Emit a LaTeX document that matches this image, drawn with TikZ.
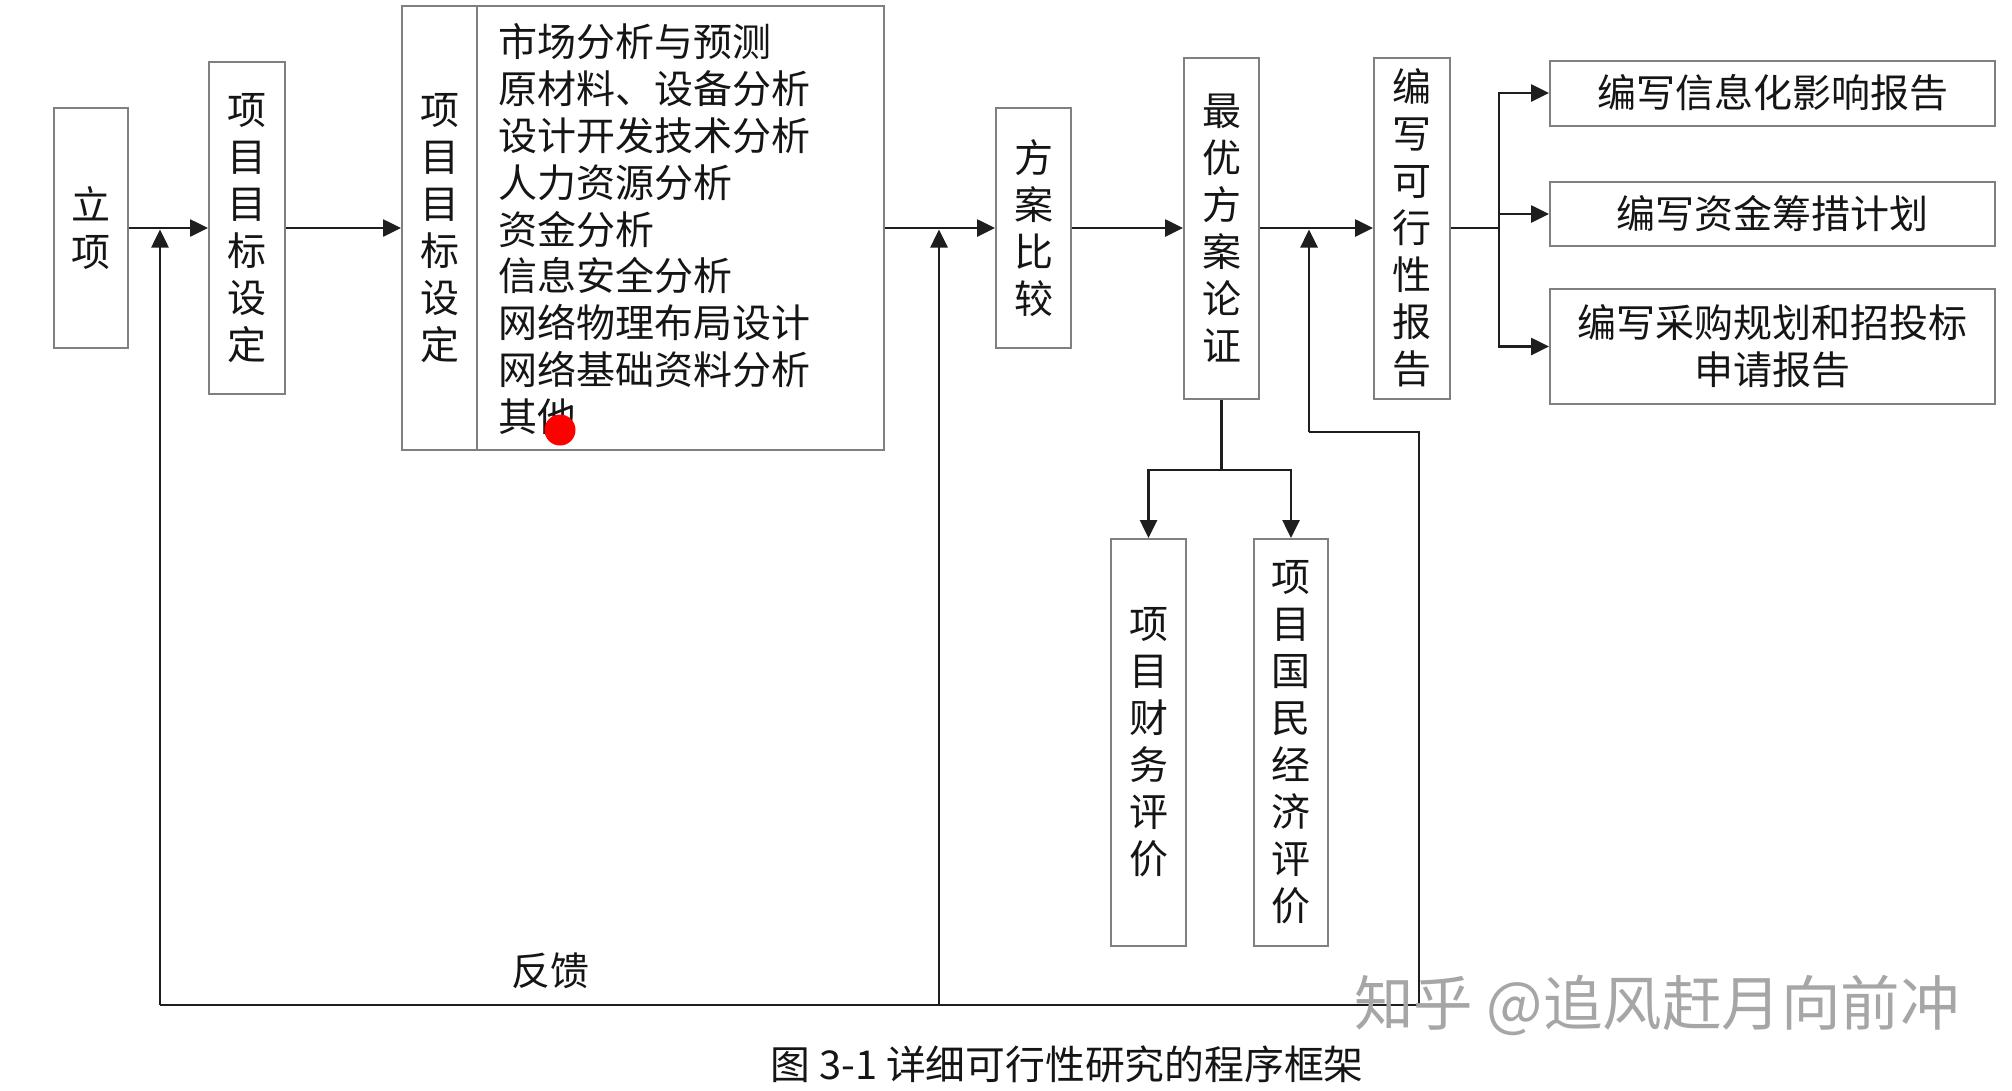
\documentclass[tikz,border=0pt]{standalone}
\usepackage{fontspec}
\setmainfont{Noto Sans CJK SC}
\usetikzlibrary{arrows.meta}
\definecolor{boxgray}{HTML}{808080}
\definecolor{linec}{HTML}{1E1E1E}
\definecolor{txt}{HTML}{151515}
\begin{document}
\begin{tikzpicture}[x=1pt,y=-1pt,
  bx/.style={draw=boxgray,line width=2pt,inner sep=0pt,align=center,text=txt,
    font=\fontsize{39}{47}\selectfont},
  plain/.style={inner sep=0pt,align=left,text=txt,font=\fontsize{39}{46.9}\selectfont},
  conn/.style={draw=linec,line width=2.6pt},
  arr/.style={conn,-{Triangle[length=18pt,width=17pt]}}]
\useasboundingbox[fill=white] (0,0) rectangle (2012,1090);

% main row boxes
\node[bx,minimum width=74pt,minimum height=240pt] (lx) at (91,228) {立\\项};
\node[bx,minimum width=76pt,minimum height=332pt] (xm1) at (247,228) {项\\目\\目\\标\\设\\定};
\node[bx,minimum width=482pt,minimum height=444pt] (big) at (643,228) {};
\draw[draw=boxgray,line width=2pt] (big.north west -| 477,0) -- (big.south west -| 477,0);
\node[plain,align=center] (bigl) at (439.5,228) {项\\目\\目\\标\\设\\定};
\node[plain,anchor=west] (bigr) at (498,229) {市场分析与预测\\原材料、设备分析\\设计开发技术分析\\人力资源分析\\资金分析\\信息安全分析\\网络物理布局设计\\网络基础资料分析\\其他};
\node[circle,fill=red,minimum size=31pt,inner sep=0pt] (cursor) at (560,430) {};
\node[bx,minimum width=75pt,minimum height=240pt] (fa) at (1033.5,228) {方\\案\\比\\较};
\node[bx,minimum width=75pt,minimum height=341pt] (zy) at (1221.5,228) {最\\优\\方\\案\\论\\证};
\node[bx,minimum width=76pt,minimum height=341pt] (kx) at (1412,228) {编\\写\\可\\行\\性\\报\\告};

% right boxes
\node[bx,minimum width=445pt,minimum height=65pt] (ra) at (1772.5,93) {编写信息化影响报告};
\node[bx,minimum width=445pt,minimum height=64pt] (rb) at (1772.5,214) {编写资金筹措计划};
\node[bx,minimum width=445pt,minimum height=115pt] (rc) at (1772.5,346.5) {编写采购规划和招投标\\申请报告};

% lower boxes
\node[bx,minimum width=75pt,minimum height=407pt] (cw) at (1148.5,742.5) {项\\目\\财\\务\\评\\价};
\node[bx,minimum width=74pt,minimum height=407pt] (gm) at (1291,742.5) {项\\目\\国\\民\\经\\济\\评\\价};

% main flow
\draw[arr] (lx.east) -- (xm1.west);
\draw[arr] (xm1.east) -- (big.west);
\draw[arr] (big.east) -- (fa.west);
\draw[arr] (fa.east) -- (zy.west);
\draw[arr] (zy.east) -- (kx.west);

% right branch
\coordinate (b0) at (1499,228);
\draw[conn] (kx.east) -- (b0);
\draw[arr] (b0) |- (ra.west);
\draw[arr] (b0) |- (rb.west);
\draw[arr] (b0) |- (rc.west);

% lower branch
\coordinate (s0) at (1221.5,470);
\draw[conn] (zy.south) -- (s0);
\draw[arr] (s0) -| (cw.north);
\draw[arr] (s0) -| (gm.north);

% feedback
\coordinate (m1) at (160,229.5);
\coordinate (m2) at (939,229.5);
\coordinate (m3) at (1309,229.5);
\coordinate (f1) at (160,1005);
\coordinate (f2) at (939,1005);
\coordinate (fr) at (1419,1005);
\coordinate (fu) at (1419,432);
\coordinate (fl) at (1309,432);
\draw[conn] (f1) -- (fr) -- (fu) -- (fl);
\draw[arr] (f1) -- (m1);
\draw[arr] (f2) -- (m2);
\draw[arr] (fl) -- (m3);

\node[text=txt,inner sep=0pt,font=\fontsize{39}{47}\selectfont] (fk) at (550,971) {反馈};
\node[text=txt,inner sep=0pt,font=\fontsize{39.8}{46}\selectfont] (cap) at (1067,1064) {图 3-1 详细可行性研究的程序框架};
\node[text=black!35,inner sep=0pt,font=\fontsize{59.5}{62}\selectfont] (wm) at (1657,1005) {知乎 @追风赶月向前冲};
\end{tikzpicture}
\end{document}
